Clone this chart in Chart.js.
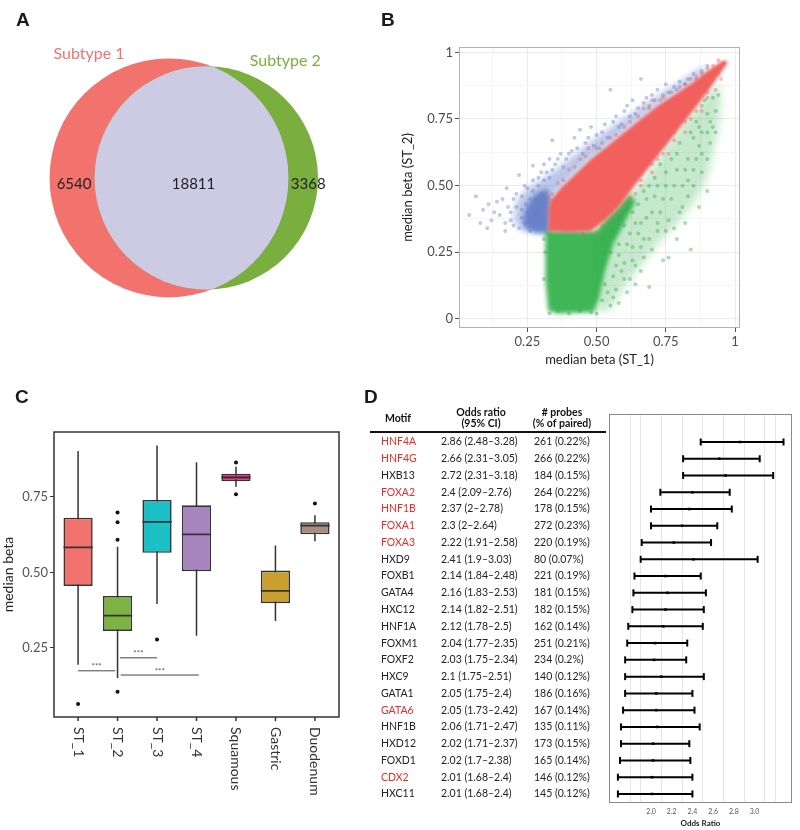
<!DOCTYPE html><html><head>
<meta charset="utf-8">
<title>Methylation subtypes</title>
<style>
  body{margin:0;background:#fff;}
  #wrap{position:relative;width:800px;height:830px;overflow:hidden;}
  canvas{position:absolute;}
  .lbl{position:absolute;font:bold 19px "Liberation Sans",Arial,sans-serif;line-height:1;color:#1a1a1a;}
</style>
</head>
<body>
<div id="wrap">
  <canvas id="venn" width="400" height="370" style="left:0;top:0"></canvas>
  <canvas id="scatter" width="400" height="370" style="left:400px;top:0"></canvas>
  <canvas id="box" width="360" height="450" style="left:0;top:380px"></canvas>
  <canvas id="forest" width="440" height="450" style="left:360px;top:380px"></canvas>
  <div class="lbl" style="left:16px;top:10px">A</div>
  <div class="lbl" style="left:381px;top:10px">B</div>
  <div class="lbl" style="left:15px;top:387px">C</div>
  <div class="lbl" style="left:364px;top:387px">D</div>
</div>
<script src="https://cdn.jsdelivr.net/npm/chart.js"></script>
<script>
Chart.defaults.font.family = "Lato, 'Open Sans', sans-serif";
Chart.defaults.animation = false;
Chart.defaults.plugins.legend.display = false;
Chart.defaults.plugins.tooltip.enabled = false;

// ---- A: venn ----
const vennNames = ['Subtype 1', 'Subtype 2'];
const vennCounts = [6540, 18811, 3368]; // only ST1, shared, only ST2
const vennColors = ['#f2736e', '#7aae3e', '#cdcae3'];

// ---- B: scatter, median beta ST_1 vs ST_2 ----
// dense cores of each cloud (outlines)
const redCore = [[0.325,0.33],[0.40,0.325],[0.48,0.33],[0.53,0.37],[0.58,0.42],[0.63,0.49],[0.69,0.57],[0.75,0.65],[0.81,0.73],[0.87,0.81],[0.92,0.88],[0.96,0.94],[0.975,0.965],[0.955,0.968],[0.90,0.93],[0.85,0.89],[0.78,0.84],[0.72,0.80],[0.66,0.75],[0.60,0.70],[0.54,0.65],[0.48,0.60],[0.42,0.54],[0.37,0.49],[0.33,0.44]];
const blueCluster = [[0.24,0.34],[0.28,0.32],[0.33,0.32],[0.335,0.45],[0.32,0.49],[0.28,0.47],[0.25,0.43],[0.235,0.38]];
const blueBand = [[0.20,0.37],[0.23,0.33],[0.33,0.33],[0.33,0.44],[0.37,0.49],[0.42,0.54],[0.48,0.60],[0.54,0.65],[0.60,0.70],[0.66,0.75],[0.72,0.80],[0.78,0.84],[0.85,0.89],[0.90,0.93],[0.88,0.945],[0.80,0.89],[0.72,0.835],[0.64,0.78],[0.56,0.725],[0.48,0.665],[0.42,0.615],[0.36,0.565],[0.30,0.52],[0.25,0.49],[0.21,0.44]];
const greenCore = [[0.315,0.33],[0.50,0.33],[0.53,0.37],[0.58,0.42],[0.62,0.47],[0.64,0.44],[0.60,0.36],[0.56,0.28],[0.53,0.18],[0.51,0.08],[0.49,0.025],[0.36,0.02],[0.325,0.03],[0.315,0.15]];
const greenSpread = [[0.50,0.02],[0.55,0.04],[0.60,0.12],[0.66,0.20],[0.72,0.28],[0.80,0.37],[0.86,0.45],[0.90,0.53],[0.92,0.62],[0.94,0.72],[0.95,0.82],[0.94,0.88],[0.90,0.85],[0.86,0.79],[0.80,0.72],[0.74,0.63],[0.68,0.54],[0.62,0.47],[0.55,0.37],[0.50,0.33]];
// individual probes around the cores
const bluePts = [[0.04,0.39],[0.064,0.46],[0.08,0.36],[0.09,0.41],[0.105,0.34],[0.11,0.43],[0.12,0.37],[0.13,0.40],[0.14,0.44],[0.15,0.39],[0.16,0.45],[0.17,0.36],[0.17,0.33],[0.175,0.49],[0.18,0.42],[0.19,0.37],[0.19,0.40],[0.20,0.45],[0.20,0.35],[0.21,0.47],[0.21,0.42],[0.22,0.34],[0.22,0.54],[0.23,0.41],[0.23,0.38],[0.23,0.46],[0.24,0.36],[0.24,0.50],[0.245,0.43],[0.25,0.49],[0.25,0.40],[0.26,0.33],[0.26,0.45],[0.26,0.37],[0.27,0.575],[0.27,0.52],[0.27,0.48],[0.28,0.45],[0.28,0.40],[0.29,0.50],[0.29,0.53],[0.30,0.55],[0.30,0.47],[0.31,0.58],[0.31,0.52],[0.32,0.55],[0.33,0.60],[0.33,0.53],[0.34,0.67],[0.34,0.56],[0.35,0.58],[0.36,0.60],[0.37,0.62],[0.38,0.57],[0.39,0.60],[0.40,0.62],[0.41,0.63],[0.42,0.68],[0.43,0.64],[0.44,0.71],[0.45,0.62],[0.46,0.66],[0.47,0.68],[0.48,0.72],[0.49,0.65],[0.50,0.69],[0.51,0.64],[0.52,0.70],[0.53,0.73],[0.54,0.68],[0.55,0.86],[0.56,0.74],[0.57,0.76],[0.58,0.72],[0.59,0.73],[0.60,0.78],[0.61,0.80],[0.62,0.76],[0.63,0.82],[0.64,0.77],[0.65,0.79],[0.66,0.90],[0.67,0.81],[0.68,0.83],[0.69,0.79],[0.70,0.84],[0.71,0.82],[0.72,0.86],[0.74,0.84],[0.75,0.88],[0.76,0.85],[0.78,0.87],[0.79,0.86],[0.80,0.89],[0.82,0.88],[0.83,0.90],[0.85,0.92],[0.86,0.90],[0.88,0.93],[0.90,0.95]];
const redPts = [[0.31,0.40],[0.32,0.46],[0.34,0.47],[0.36,0.51],[0.38,0.52],[0.40,0.56],[0.42,0.57],[0.44,0.60],[0.46,0.61],[0.47,0.64],[0.50,0.64],[0.52,0.66],[0.55,0.68],[0.57,0.69],[0.60,0.72],[0.62,0.74],[0.65,0.76],[0.67,0.79],[0.69,0.80],[0.70,0.82],[0.73,0.82],[0.74,0.83],[0.77,0.85],[0.80,0.87],[0.82,0.88],[0.84,0.90],[0.86,0.91],[0.88,0.92],[0.90,0.94],[0.92,0.95],[0.94,0.97],[0.96,0.96],[0.45,0.32],[0.50,0.32],[0.52,0.35],[0.54,0.36],[0.56,0.38],[0.58,0.40],[0.60,0.43],[0.62,0.45],[0.64,0.47],[0.66,0.52],[0.66,0.50],[0.70,0.55],[0.70,0.58],[0.72,0.60],[0.74,0.62],[0.76,0.62],[0.78,0.67],[0.78,0.70],[0.82,0.70],[0.82,0.74],[0.84,0.75],[0.86,0.78],[0.88,0.78],[0.90,0.83],[0.90,0.85],[0.92,0.90],[0.93,0.86],[0.94,0.92],[0.95,0.90],[0.88,0.80],[0.77,0.72],[0.69,0.62],[0.61,0.50],[0.55,0.40]];
const greenPts = [[0.33,0.02],[0.36,0.03],[0.40,0.02],[0.44,0.03],[0.48,0.025],[0.50,0.02],[0.31,0.15],[0.315,0.25],[0.31,0.30],[0.52,0.07],[0.54,0.10],[0.55,0.05],[0.56,0.08],[0.56,0.16],[0.57,0.11],[0.58,0.06],[0.53,0.13],[0.59,0.18],[0.60,0.15],[0.61,0.10],[0.62,0.15],[0.60,0.21],[0.58,0.24],[0.61,0.28],[0.63,0.22],[0.64,0.13],[0.64,0.20],[0.66,0.18],[0.66,0.27],[0.65,0.32],[0.67,0.23],[0.69,0.12],[0.58,0.28],[0.63,0.27],[0.67,0.30],[0.69,0.30],[0.70,0.26],[0.72,0.33],[0.72,0.36],[0.74,0.22],[0.75,0.33],[0.76,0.23],[0.76,0.37],[0.78,0.34],[0.79,0.30],[0.80,0.40],[0.81,0.42],[0.82,0.36],[0.84,0.26],[0.83,0.46],[0.83,0.52],[0.85,0.50],[0.87,0.42],[0.88,0.55],[0.90,0.48],[0.90,0.60],[0.91,0.66],[0.92,0.72],[0.93,0.78],[0.94,0.84],[0.86,0.60],[0.82,0.56],[0.78,0.50],[0.74,0.45],[0.70,0.40],[0.66,0.36],[0.62,0.32],[0.79,0.62],[0.72,0.50],[0.68,0.45],[0.75,0.55],[0.87,0.72],[0.90,0.77],[0.85,0.68],[0.60,0.35],[0.57,0.20],[0.55,0.25],[0.52,0.30],[0.56,0.33],[0.58,0.38],[0.61,0.41],[0.63,0.40],[0.64,0.36],[0.65,0.43],[0.67,0.48],[0.69,0.50],[0.71,0.46],[0.71,0.53],[0.73,0.58],[0.73,0.40],[0.75,0.50],[0.77,0.60],[0.77,0.45],[0.79,0.56],[0.80,0.66],[0.81,0.50],[0.83,0.60],[0.84,0.70],[0.85,0.56],[0.86,0.74],[0.87,0.65],[0.88,0.70],[0.88,0.62],[0.89,0.82],[0.90,0.70],[0.91,0.74],[0.92,0.83],[0.93,0.70],[0.68,0.38]];
const scatterTicks = [0, 0.125, 0.25, 0.375, 0.5, 0.625, 0.75, 0.875, 1];

// ---- C: boxplot ----
const groups = ['ST_1', 'ST_2', 'ST_3', 'ST_4', 'Squamous', 'Gastric', 'Duodenum'];
const whiskLo = [0.194, 0.150, 0.395, 0.290, 0.784, 0.339, 0.603];
const q1 = [0.455, 0.306, 0.565, 0.504, 0.802, 0.398, 0.626];
const med = [0.583, 0.357, 0.667, 0.626, 0.815, 0.439, 0.655];
const q3 = [0.681, 0.422, 0.740, 0.722, 0.827, 0.506, 0.666];
const whiskHi = [0.902, 0.585, 0.920, 0.865, 0.850, 0.589, 0.689];
const outGroup = [0, 1, 1, 1, 1, 2, 4, 4, 6];
const outValue = [0.064, 0.698, 0.666, 0.608, 0.105, 0.278, 0.864, 0.759, 0.728];
const boxColors = ['#f2736e', '#7cb342', '#1cbfc5', '#a884bf', '#e41a7b', '#c9a02e', '#a68d80'];
const sigFrom = [0, 1.06, 1.08];
const sigTo = [0.94, 2.0, 3.06];
const sigY = [0.174, 0.217, 0.160];
const boxTicks = [0.25, 0.5, 0.75];

// ---- D: motif enrichment ----
const motifs = ['HNF4A','HNF4G','HXB13','FOXA2','HNF1B','FOXA1','FOXA3','HXD9','FOXB1','GATA4','HXC12','HNF1A','FOXM1','FOXF2','HXC9','GATA1','GATA6','HNF1B','HXD12','FOXD1','CDX2','HXC11'];
const motifRed = [1,1,0,1,1,1,1,0,0,0,0,0,0,0,0,0,1,0,0,0,1,0];
const oddsRatio = [2.86,2.66,2.72,2.4,2.37,2.3,2.22,2.41,2.14,2.16,2.14,2.12,2.04,2.03,2.1,2.05,2.05,2.06,2.02,2.02,2.01,2.01];
const ciLow = [2.48,2.31,2.31,2.09,2,2,1.91,1.9,1.84,1.83,1.82,1.78,1.77,1.75,1.75,1.75,1.73,1.71,1.71,1.7,1.68,1.68];
const ciHigh = [3.28,3.05,3.18,2.76,2.78,2.64,2.58,3.03,2.48,2.53,2.51,2.5,2.35,2.34,2.51,2.4,2.42,2.47,2.37,2.38,2.4,2.4];
const probes = [261,266,184,264,178,272,220,80,221,181,182,162,251,234,140,186,167,135,173,165,146,145];
const probePct = [0.22,0.22,0.15,0.22,0.15,0.23,0.19,0.07,0.19,0.15,0.15,0.14,0.21,0.2,0.12,0.16,0.14,0.11,0.15,0.14,0.12,0.12];
const forestTicks = [1.8,1.9,2.0,2.1,2.2,2.3,2.4,2.5,2.6,2.7,2.8,2.9,3.0,3.1,3.2];
const forestGrid = [1.8,1.9,2.1,2.3,2.5,2.7,2.9,3.1,3.2];
const forestLabels = [2.0,2.2,2.4,2.6,2.8,3.0];

// ================= A =================
function lensArea(r1, r2, d) {
  const a1 = Math.acos((d*d + r1*r1 - r2*r2) / (2*d*r1));
  const a2 = Math.acos((d*d + r2*r2 - r1*r1) / (2*d*r2));
  const k = Math.sqrt((-d+r1+r2)*(d+r1-r2)*(d-r1+r2)*(d+r1+r2));
  return r1*r1*a1 + r2*r2*a2 - 0.5*k;
}
const r1 = Math.sqrt((vennCounts[0] + vennCounts[1]) / Math.PI);
const r2 = Math.sqrt((vennCounts[1] + vennCounts[2]) / Math.PI);
let dLo = Math.abs(r1 - r2) + 1e-6, dHi = r1 + r2 - 1e-6;
for (let i = 0; i < 60; i++) {
  const mid = (dLo + dHi) / 2;
  if (lensArea(r1, r2, mid) > vennCounts[1]) dLo = mid; else dHi = mid;
}
const dist = (dLo + dHi) / 2;

const vennPlugin = {
  id: 'venn',
  afterDatasetsDraw(chart) {
    const ctx = chart.ctx, xs = chart.scales.x, ys = chart.scales.y;
    const u = xs.getPixelForValue(1) - xs.getPixelForValue(0);
    const c1 = {x: xs.getPixelForValue(0), y: ys.getPixelForValue(0)};
    const c2 = {x: xs.getPixelForValue(dist), y: ys.getPixelForValue(0)};
    const R1 = r1 * u, R2 = r2 * u;
    ctx.save();
    ctx.fillStyle = vennColors[0];
    ctx.beginPath(); ctx.arc(c1.x, c1.y, R1, 0, Math.PI*2); ctx.fill();
    ctx.fillStyle = vennColors[1];
    ctx.beginPath(); ctx.arc(c2.x, c2.y, R2, 0, Math.PI*2); ctx.fill();
    ctx.save();
    ctx.beginPath(); ctx.arc(c1.x, c1.y, R1, 0, Math.PI*2); ctx.clip();
    ctx.fillStyle = vennColors[2];
    ctx.beginPath(); ctx.arc(c2.x, c2.y, R2, 0, Math.PI*2); ctx.fill();
    ctx.restore();
    ctx.textAlign = 'center'; ctx.textBaseline = 'middle';
    ctx.font = '16px Lato';
    ctx.fillStyle = vennColors[0];
    ctx.fillText(vennNames[0], c1.x - 80, c1.y - 124);
    ctx.fillStyle = vennColors[1];
    ctx.fillText(vennNames[1], c2.x + 79, c1.y - 117);
    ctx.font = '15px Lato';
    ctx.fillStyle = '#231f20';
    const leftA = c1.x - R1, leftB = c2.x - R2, rightA = c1.x + R1, rightB = c2.x + R2;
    ctx.fillText(vennCounts[0], (leftA + leftB) / 2 + 2, c1.y + 6);
    ctx.fillText(vennCounts[1], (leftB + rightA) / 2 + 2, c1.y + 6);
    ctx.fillText(vennCounts[2], (rightA + rightB) / 2 + 5, c1.y + 6);
    ctx.restore();
  }
};
new Chart(document.getElementById('venn'), {
  type: 'scatter',
  data: {datasets: [{data: [{x: 0, y: 0}, {x: dist, y: 0}], pointRadius: 0}]},
  options: {
    responsive: false,
    layout: {padding: 0},
    scales: {
      x: {display: false, min: -127.1, max: 173.7},
      y: {display: false, min: -144.4, max: 133.8}
    }
  },
  plugins: [vennPlugin]
});

// ================= B =================
const toXY = pts => pts.map(p => ({x: p[0], y: p[1]}));
function fillPoly(chart, pts, color, blur) {
  const ctx = chart.ctx, xs = chart.scales.x, ys = chart.scales.y;
  ctx.save();
  ctx.filter = 'blur(' + blur + 'px)';
  ctx.fillStyle = color;
  ctx.beginPath();
  pts.forEach((p, i) => {
    const px = xs.getPixelForValue(p[0]), py = ys.getPixelForValue(p[1]);
    if (i === 0) ctx.moveTo(px, py); else ctx.lineTo(px, py);
  });
  ctx.closePath();
  ctx.fill();
  ctx.restore();
}
const isMajor = v => Math.abs(v*4 - Math.round(v*4)) < 1e-6;
const fmtBeta = v => (v === 0 ? '0' : v === 1 ? '1' : v.toFixed(2));
const scatterPlugin = {
  id: 'scatterPolys',
  beforeDatasetsDraw(chart) {
    fillPoly(chart, blueBand, 'rgba(100,128,205,0.45)', 3);
    fillPoly(chart, blueCluster, 'rgba(84,112,192,0.8)', 2.5);
    fillPoly(chart, greenSpread, 'rgba(46,170,70,0.27)', 4);
    fillPoly(chart, greenCore, 'rgba(38,172,64,0.88)', 2);
  },
  afterDatasetDraw(chart, args) {
    if (args.index === 1) fillPoly(chart, redCore, '#f1605d', 1.5);
  },
  afterDraw(chart) {
    const a = chart.chartArea, ctx = chart.ctx;
    ctx.save();
    ctx.strokeStyle = '#b3b3b3'; ctx.lineWidth = 1;
    ctx.strokeRect(a.left + 0.5, a.top + 0.5, a.right - a.left - 1, a.bottom - a.top - 1);
    ctx.restore();
  }
};
const betaAxis = (title, min, max, ticks, fit) => ({
  type: 'linear', min: min, max: max,
  afterBuildTicks: s => { s.ticks = ticks.map(v => ({value: v})); },
  afterFit: fit,
  border: {display: false},
  grid: {
    color: c => (isMajor(c.tick.value) ? '#ebebeb' : '#f5f5f5'),
    tickColor: c => (isMajor(c.tick.value) ? '#555' : 'rgba(0,0,0,0)'),
    tickLength: 4
  },
  ticks: {
    autoSkip: false, maxRotation: 0, padding: 2,
    color: '#4d4d4d', font: {size: 13},
    callback: v => (isMajor(v) ? fmtBeta(v) : '')
  },
  title: {display: true, text: title, color: '#222', font: {size: 13}, padding: {top: 0, bottom: 2}}
});
new Chart(document.getElementById('scatter'), {
  type: 'scatter',
  data: {datasets: [
    {data: toXY(redPts), backgroundColor: 'rgba(241,96,93,0.4)', pointRadius: 2, borderWidth: 0},
    {data: toXY(greenPts), backgroundColor: 'rgba(46,170,70,0.4)', pointRadius: 2, borderWidth: 0},
    {data: toXY(bluePts), backgroundColor: 'rgba(95,125,200,0.4)', pointRadius: 2, borderWidth: 0}
  ]},
  options: {
    responsive: false,
    layout: {padding: {top: 47, right: 60, left: 0, bottom: 0}},
    scales: {
      x: betaAxis('median beta (ST_1)', 0.003, 1.018, scatterTicks.slice(1), s => { s.height = 42; }),
      y: betaAxis('median beta (ST_2)', -0.034, 1.02, scatterTicks, s => { s.width = 59; })
    }
  },
  plugins: [scatterPlugin]
});

// ================= C =================
const whiskerData = [], medianData = [], sigData = [];
groups.forEach((g, i) => {
  whiskerData.push({x: i, y: whiskLo[i]}, {x: i, y: whiskHi[i]}, {x: i, y: null});
  medianData.push({x: i - 0.37, y: med[i]}, {x: i + 0.37, y: med[i]}, {x: i, y: null});
});
sigY.forEach((y, k) => {
  sigData.push({x: sigFrom[k], y: y}, {x: sigTo[k], y: y}, {x: sigTo[k], y: null});
});
const boxPlugin = {
  id: 'boxDecor',
  afterDraw(chart) {
    const ctx = chart.ctx, a = chart.chartArea, xs = chart.scales.x, ys = chart.scales.y;
    ctx.save();
    ctx.strokeStyle = '#333'; ctx.lineWidth = 1.5;
    ctx.strokeRect(a.left, a.top, a.right - a.left, a.bottom - a.top);
    ctx.fillStyle = '#333'; ctx.font = '14px Lato';
    ctx.textAlign = 'left'; ctx.textBaseline = 'middle';
    groups.forEach((g, i) => {
      const x = xs.getPixelForValue(i);
      ctx.beginPath(); ctx.moveTo(x, a.bottom); ctx.lineTo(x, a.bottom + 4); ctx.stroke();
      ctx.save();
      ctx.translate(x, a.bottom + 10);
      ctx.rotate(Math.PI / 2);
      ctx.fillText(g, 0, 0);
      ctx.restore();
    });
    ctx.fillStyle = '#555'; ctx.font = '8px Lato'; ctx.textAlign = 'center';
    sigY.forEach((y, k) => {
      ctx.fillText('***', xs.getPixelForValue((sigFrom[k] + sigTo[k]) / 2), ys.getPixelForValue(y) - 4);
    });
    ctx.restore();
  }
};
new Chart(document.getElementById('box'), {
  type: 'bar',
  data: {datasets: [
    {type: 'line', data: whiskerData, borderColor: '#333', borderWidth: 1.5, pointRadius: 0, spanGaps: false, order: 4},
    {type: 'bar', data: groups.map((g, i) => ({x: i, y: [q1[i], q3[i]]})), backgroundColor: boxColors,
     borderColor: '#333', borderWidth: 1.6, borderSkipped: false, barPercentage: 0.74, categoryPercentage: 1, order: 3},
    {type: 'line', data: medianData, borderColor: '#333', borderWidth: 1.8, pointRadius: 0, spanGaps: false, order: 2},
    {type: 'scatter', data: outGroup.map((g, k) => ({x: g, y: outValue[k]})), pointRadius: 2, backgroundColor: '#111', borderWidth: 0, order: 1},
    {type: 'line', data: sigData, borderColor: '#444', borderWidth: 1, pointRadius: 0, spanGaps: false, order: 0}
  ]},
  options: {
    responsive: false,
    layout: {padding: {top: 52, right: 21, bottom: 113, left: 0}},
    scales: {
      x: {type: 'linear', min: -0.61, max: 6.61, offset: false, display: false},
      y: {
        min: 0.021, max: 0.965,
        afterBuildTicks: s => { s.ticks = boxTicks.map(v => ({value: v})); },
        afterFit: s => { s.width = 54; },
        border: {display: false},
        grid: {drawOnChartArea: false, tickLength: 4, color: '#333'},
        ticks: {color: '#555', font: {size: 13}, padding: 2, callback: v => v.toFixed(2)},
        title: {display: true, text: 'median beta', color: '#222', font: {size: 14}, padding: {top: 0, bottom: 4}}
      }
    }
  },
  plugins: [boxPlugin]
});

// ================= D =================
const ciData = [], capData = [];
motifs.forEach((m, i) => {
  ciData.push({x: ciLow[i], y: i}, {x: ciHigh[i], y: i}, {x: ciHigh[i], y: null});
  capData.push({x: ciLow[i], y: i}, {x: ciHigh[i], y: i});
});
const has = (list, v) => list.some(t => Math.round(t*10) === Math.round(v*10));
const tablePlugin = {
  id: 'motifTable',
  afterDraw(chart) {
    const ctx = chart.ctx, a = chart.chartArea, ys = chart.scales.y;
    ctx.save();
    ctx.strokeStyle = '#8a8a8a'; ctx.lineWidth = 1;
    ctx.strokeRect(a.left + 0.5, a.top + 0.5, a.right - a.left - 1, a.bottom - a.top - 1);
    ctx.fillStyle = '#111'; ctx.textAlign = 'center'; ctx.textBaseline = 'middle';
    ctx.font = 'bold 10.5px Lato';
    ctx.fillText('Motif', 38, 39);
    ctx.fillText('Odds ratio', 121, 33);
    ctx.fillText('(95% CI)', 121, 44);
    ctx.fillText('# probes', 202, 33);
    ctx.fillText('(% of paired)', 202, 44);
    ctx.strokeStyle = '#111'; ctx.lineWidth = 2;
    ctx.beginPath(); ctx.moveTo(10, 52); ctx.lineTo(246, 52); ctx.stroke();
    ctx.font = '10.5px Lato'; ctx.textAlign = 'left';
    motifs.forEach((m, i) => {
      const y = ys.getPixelForValue(i);
      ctx.fillStyle = motifRed[i] ? '#ee2a2a' : '#222';
      ctx.fillText(m, 21, y);
      ctx.fillStyle = '#222';
      ctx.fillText(oddsRatio[i] + ' (' + ciLow[i] + '\u2013' + ciHigh[i] + ')', 81, y);
      ctx.fillText(probes[i] + ' (' + probePct[i] + '%)', 174, y);
    });
    ctx.restore();
  }
};
new Chart(document.getElementById('forest'), {
  type: 'scatter',
  data: {datasets: [
    {type: 'line', data: ciData, borderColor: '#000', borderWidth: 2, pointRadius: 0, spanGaps: false, order: 2},
    {data: capData, pointStyle: 'line', rotation: 90, pointRadius: 3.5, borderColor: '#000', borderWidth: 2, order: 1},
    {data: oddsRatio.map((v, i) => ({x: v, y: i})), pointStyle: 'rect', pointRadius: 1.8, backgroundColor: '#000', borderWidth: 0, order: 0}
  ]},
  options: {
    responsive: false,
    layout: {padding: {top: 34, right: 8, left: 249, bottom: 0}},
    scales: {
      x: {
        type: 'linear', min: 1.594, max: 3.362,
        afterBuildTicks: s => { s.ticks = forestTicks.map(v => ({value: v})); },
        afterFit: s => { s.height = 27; },
        border: {display: false},
        grid: {drawTicks: false, color: c => (has(forestGrid, c.tick.value) ? '#e6e6e6' : 'rgba(0,0,0,0)')},
        ticks: {autoSkip: false, maxRotation: 0, padding: 5, color: '#555', font: {size: 7},
                callback: v => (has(forestLabels, v) ? v.toFixed(1) : '')},
        title: {display: true, text: 'Odds Ratio', color: '#222', font: {size: 8, weight: 'bold'}, padding: {top: 1, bottom: 2}}
      },
      y: {type: 'linear', display: false, reverse: true, min: -1.67, max: 21.54}
    }
  },
  plugins: [tablePlugin]
});
</script>
</body></html>
